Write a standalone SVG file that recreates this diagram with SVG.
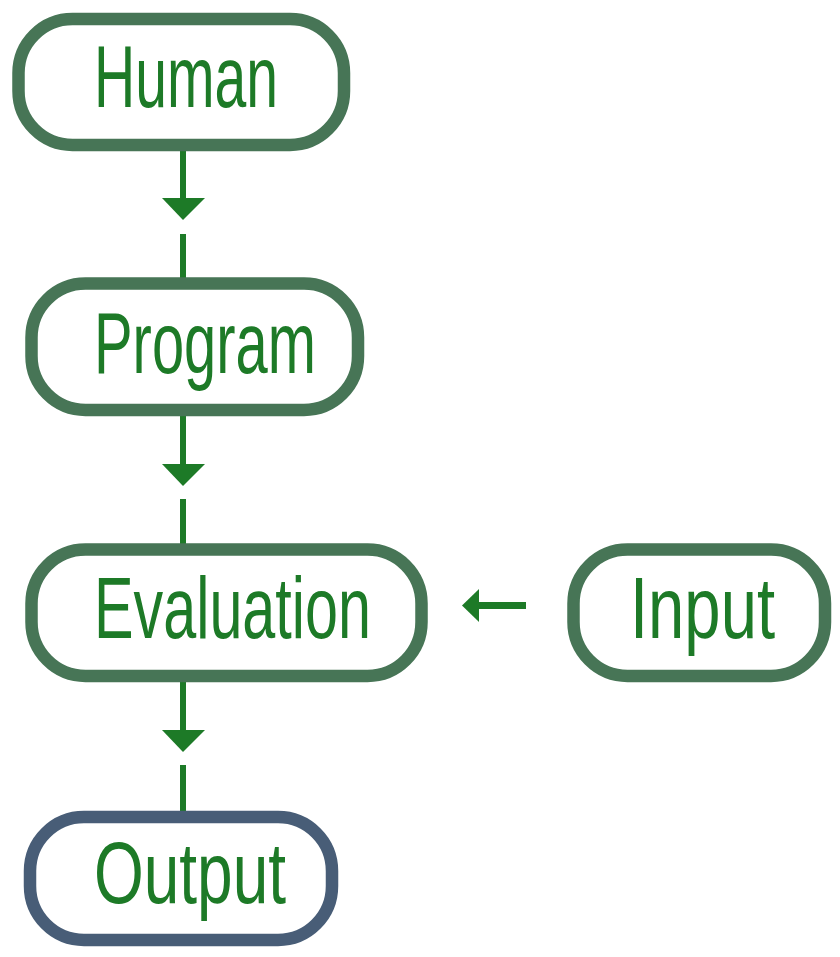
<svg xmlns="http://www.w3.org/2000/svg" width="840" height="957" viewBox="0 0 840 957">
<style>
.box{fill:#ffffff;stroke:#477556;stroke-width:12.5}
.out{stroke:#485d77}
.lbl{font-family:"Liberation Sans","DejaVu Sans",sans-serif;font-size:87px;fill:#1d7a27}
.ln{stroke:#1d7a27;stroke-width:6;fill:none}
.hd{fill:#1d7a27}
</style>
<rect width="840" height="957" fill="#ffffff"/>
<g id="connectors">
<line class="ln" x1="183" y1="145" x2="183" y2="200"/>
<polygon class="hd" points="162,198 205,198 183,220"/>
<line class="ln" x1="183" y1="234" x2="183" y2="284"/>
<line class="ln" x1="183" y1="410" x2="183" y2="467"/>
<polygon class="hd" points="162,464 205,464 183,486"/>
<line class="ln" x1="183" y1="499" x2="183" y2="550"/>
<line class="ln" x1="183" y1="676" x2="183" y2="732"/>
<polygon class="hd" points="162,730 205,730 183,752"/>
<line class="ln" x1="183" y1="765" x2="183" y2="817"/>
<line class="ln" x1="476" y1="605.5" x2="526" y2="605.5" style="stroke-width:7"/>
<polygon class="hd" points="462,605.5 479,589 479,622"/>
</g>
<g id="human">
<rect class="box" x="18.5" y="19" width="325.5" height="126" rx="54"/>
<text class="lbl" x="94" y="107" textLength="184" lengthAdjust="spacingAndGlyphs">Human</text>
</g>
<g id="program">
<rect class="box" x="31.5" y="283.5" width="326.5" height="126.5" rx="54"/>
<text class="lbl" x="94" y="373" textLength="222" lengthAdjust="spacingAndGlyphs">Program</text>
</g>
<g id="evaluation">
<rect class="box" x="31.5" y="549.5" width="390" height="126.5" rx="54"/>
<text class="lbl" x="94" y="638" textLength="277" lengthAdjust="spacingAndGlyphs">Evaluation</text>
</g>
<g id="input">
<rect class="box" x="573.5" y="549.5" width="251.5" height="126.5" rx="54"/>
<text class="lbl" x="630" y="638" textLength="145" lengthAdjust="spacingAndGlyphs">Input</text>
</g>
<g id="output">
<rect class="box out" x="30" y="817" width="302" height="123" rx="54"/>
<text class="lbl" x="94" y="903" textLength="192" lengthAdjust="spacingAndGlyphs">Output</text>
</g>
</svg>
